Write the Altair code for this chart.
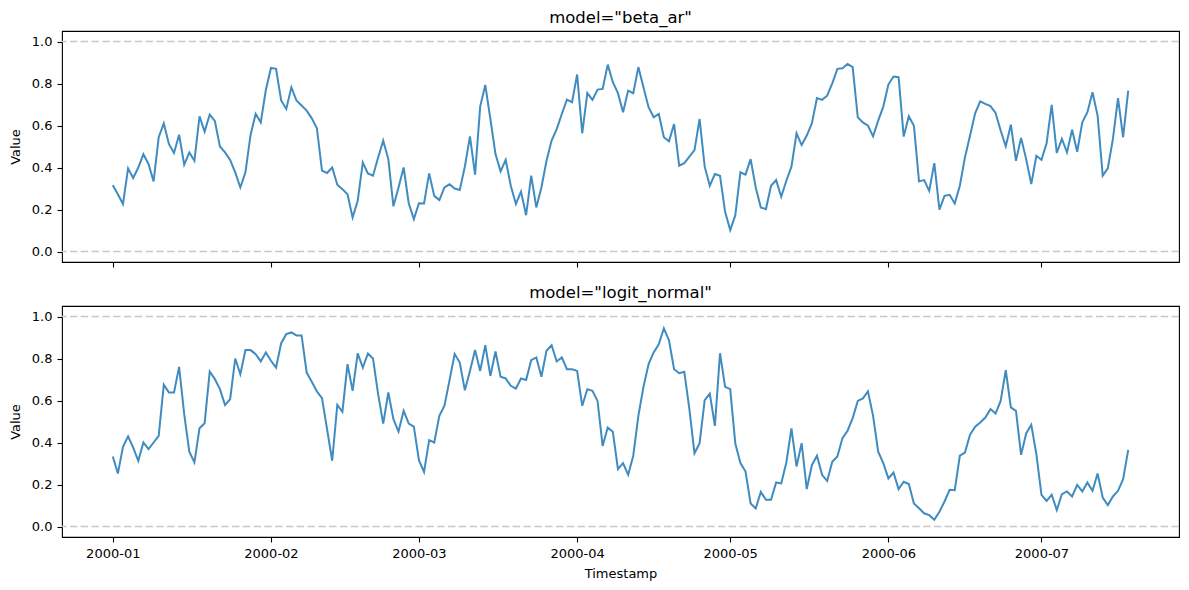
import altair as alt
import pandas as pd

# ---- data ----
models = ["beta_ar", "logit_normal"]
start_date = "2000-01-01"

beta_ar = [
    0.316, 0.273, 0.226, 0.396, 0.350, 0.400, 0.463, 0.417, 0.334, 0.544,
    0.610, 0.512, 0.469, 0.556, 0.413, 0.472, 0.432, 0.644, 0.571, 0.652,
    0.622, 0.500, 0.472, 0.436, 0.377, 0.305, 0.377, 0.555, 0.655, 0.615,
    0.769, 0.874, 0.870, 0.719, 0.679, 0.782, 0.719, 0.695, 0.671, 0.634,
    0.587, 0.385, 0.374, 0.400, 0.318, 0.297, 0.273, 0.162, 0.242, 0.424,
    0.372, 0.361, 0.448, 0.528, 0.440, 0.215, 0.305, 0.400, 0.230, 0.154,
    0.230, 0.229, 0.372, 0.265, 0.245, 0.305, 0.320, 0.300, 0.293, 0.405,
    0.548, 0.366, 0.690, 0.793, 0.631, 0.464, 0.382, 0.437, 0.313, 0.226,
    0.285, 0.173, 0.361, 0.210, 0.305, 0.432, 0.528, 0.583, 0.655, 0.723,
    0.711, 0.843, 0.563, 0.754, 0.722, 0.771, 0.774, 0.890, 0.806, 0.754,
    0.663, 0.766, 0.754, 0.878, 0.782, 0.687, 0.639, 0.655, 0.544, 0.525,
    0.607, 0.409, 0.421, 0.452, 0.483, 0.631, 0.404, 0.313, 0.369, 0.361,
    0.189, 0.102, 0.173, 0.377, 0.366, 0.440, 0.305, 0.210, 0.202, 0.313,
    0.340, 0.261, 0.337, 0.404, 0.563, 0.507, 0.552, 0.610, 0.731, 0.722,
    0.742, 0.801, 0.870, 0.873, 0.893, 0.878, 0.639, 0.615, 0.599, 0.548,
    0.623, 0.690, 0.795, 0.833, 0.830, 0.547, 0.644, 0.599, 0.334, 0.340,
    0.289, 0.421, 0.199, 0.265, 0.270, 0.229, 0.313, 0.448, 0.552, 0.658,
    0.715, 0.703, 0.692, 0.660, 0.576, 0.501, 0.604, 0.432, 0.541, 0.440,
    0.321, 0.456, 0.437, 0.515, 0.698, 0.469, 0.536, 0.472, 0.580, 0.475,
    0.615, 0.663, 0.758, 0.647, 0.361, 0.396, 0.536, 0.730, 0.544, 0.766,
]

logit_normal = [
    0.333, 0.252, 0.379, 0.429, 0.376, 0.313, 0.400, 0.368, 0.400, 0.432,
    0.675, 0.638, 0.638, 0.760, 0.535, 0.356, 0.305, 0.468, 0.492, 0.738,
    0.702, 0.654, 0.578, 0.606, 0.800, 0.725, 0.840, 0.840, 0.821, 0.786,
    0.829, 0.789, 0.757, 0.873, 0.916, 0.924, 0.910, 0.910, 0.733, 0.689,
    0.643, 0.611, 0.463, 0.313, 0.579, 0.546, 0.773, 0.646, 0.824, 0.757,
    0.824, 0.800, 0.630, 0.490, 0.638, 0.511, 0.452, 0.551, 0.490, 0.476,
    0.316, 0.260, 0.411, 0.400, 0.527, 0.575, 0.697, 0.821, 0.781, 0.649,
    0.741, 0.840, 0.741, 0.863, 0.717, 0.833, 0.713, 0.705, 0.670, 0.657,
    0.705, 0.698, 0.792, 0.805, 0.713, 0.837, 0.863, 0.786, 0.805, 0.749,
    0.749, 0.741, 0.575, 0.654, 0.646, 0.598, 0.384, 0.471, 0.451, 0.273,
    0.302, 0.246, 0.337, 0.527, 0.665, 0.773, 0.829, 0.868, 0.944, 0.887,
    0.749, 0.730, 0.737, 0.559, 0.349, 0.397, 0.602, 0.633, 0.479, 0.825,
    0.665, 0.654, 0.395, 0.302, 0.262, 0.110, 0.086, 0.165, 0.127, 0.127,
    0.210, 0.205, 0.305, 0.467, 0.286, 0.397, 0.178, 0.292, 0.337, 0.246,
    0.217, 0.308, 0.333, 0.421, 0.456, 0.516, 0.598, 0.610, 0.643, 0.527,
    0.356, 0.302, 0.229, 0.257, 0.178, 0.213, 0.202, 0.110, 0.087, 0.063,
    0.054, 0.032, 0.070, 0.119, 0.175, 0.173, 0.337, 0.352, 0.437, 0.475,
    0.495, 0.519, 0.559, 0.538, 0.598, 0.744, 0.567, 0.551, 0.341, 0.443,
    0.484, 0.344, 0.151, 0.122, 0.151, 0.078, 0.154, 0.167, 0.143, 0.198,
    0.167, 0.210, 0.170, 0.252, 0.138, 0.102, 0.143, 0.170, 0.225, 0.365,
]

ref_levels = [0.0, 1.0]
y_ticks = [0.0, 0.2, 0.4, 0.6, 0.8, 1.0]
tick_months = [1, 2, 3, 4, 5, 6, 7]

dates = pd.date_range(start_date, periods=len(beta_ar), freq="D").strftime("%Y-%m-%d").tolist()
series = {"beta_ar": beta_ar, "logit_normal": logit_normal}

FONT = "DejaVu Sans"
LINE_COLOR = "#1f77b4"
REF_COLOR = "#c8c8c8"

x_values = [alt.DateTime(year=2000, month=m, date=1, utc=True) for m in tick_months]
x_domain = [
    alt.DateTime(year=1999, month=12, date=22, hours=1, minutes=12, utc=True),
    alt.DateTime(year=2000, month=7, date=27, hours=22, minutes=48, utc=True),
]
Y_SCALE = alt.Scale(domain=[-0.05, 1.05], nice=False, zero=False)


def panel(model, show_labels):
    df = pd.DataFrame({"Timestamp": dates, "Value": series[model]})
    ref = pd.DataFrame({"level": ref_levels})
    if show_labels:
        xaxis = alt.Axis(values=x_values, labelExpr="utcFormat(datum.value, '%Y-%m')",
                         title="Timestamp", labelPadding=5, titlePadding=7)
    else:
        xaxis = alt.Axis(values=x_values, labels=False, title=None)
    x = alt.X("Timestamp:T", scale=alt.Scale(type="utc", domain=x_domain), axis=xaxis)
    y = alt.Y("Value:Q", scale=Y_SCALE,
              axis=alt.Axis(values=y_ticks, format=".1f", title="Value",
                            labelPadding=5, titlePadding=9))
    rules = alt.Chart(ref).mark_rule(
        color=REF_COLOR, strokeDash=[7.5, 3.3], strokeWidth=1.6
    ).encode(y=alt.Y("level:Q", scale=Y_SCALE))
    line = alt.Chart(df).mark_line(
        color=LINE_COLOR, strokeWidth=2, opacity=0.85
    ).encode(x=x, y=y)
    return alt.layer(rules, line).properties(
        width=1117, height=231,
        title=alt.TitleParams(f'model="{model}"', font=FONT, fontSize=16.5,
                              fontWeight="normal", color="black", offset=5),
    )


chart = alt.vconcat(
    panel("beta_ar", False), panel("logit_normal", True), spacing=14
).properties(
    padding={"left": 0, "top": 0, "right": 0, "bottom": 2}
).configure_view(
    stroke="black", strokeWidth=1.1
).configure_axis(
    grid=False, domain=False, ticks=True, tickSize=5, tickWidth=1.1,
    tickColor="black", labelColor="black", titleColor="black",
    labelFont=FONT, titleFont=FONT, labelFontSize=13, titleFontSize=13,
    titleFontWeight="normal",
)

chart.save("out.html", embed_options={"renderer": "svg", "actions": False})
